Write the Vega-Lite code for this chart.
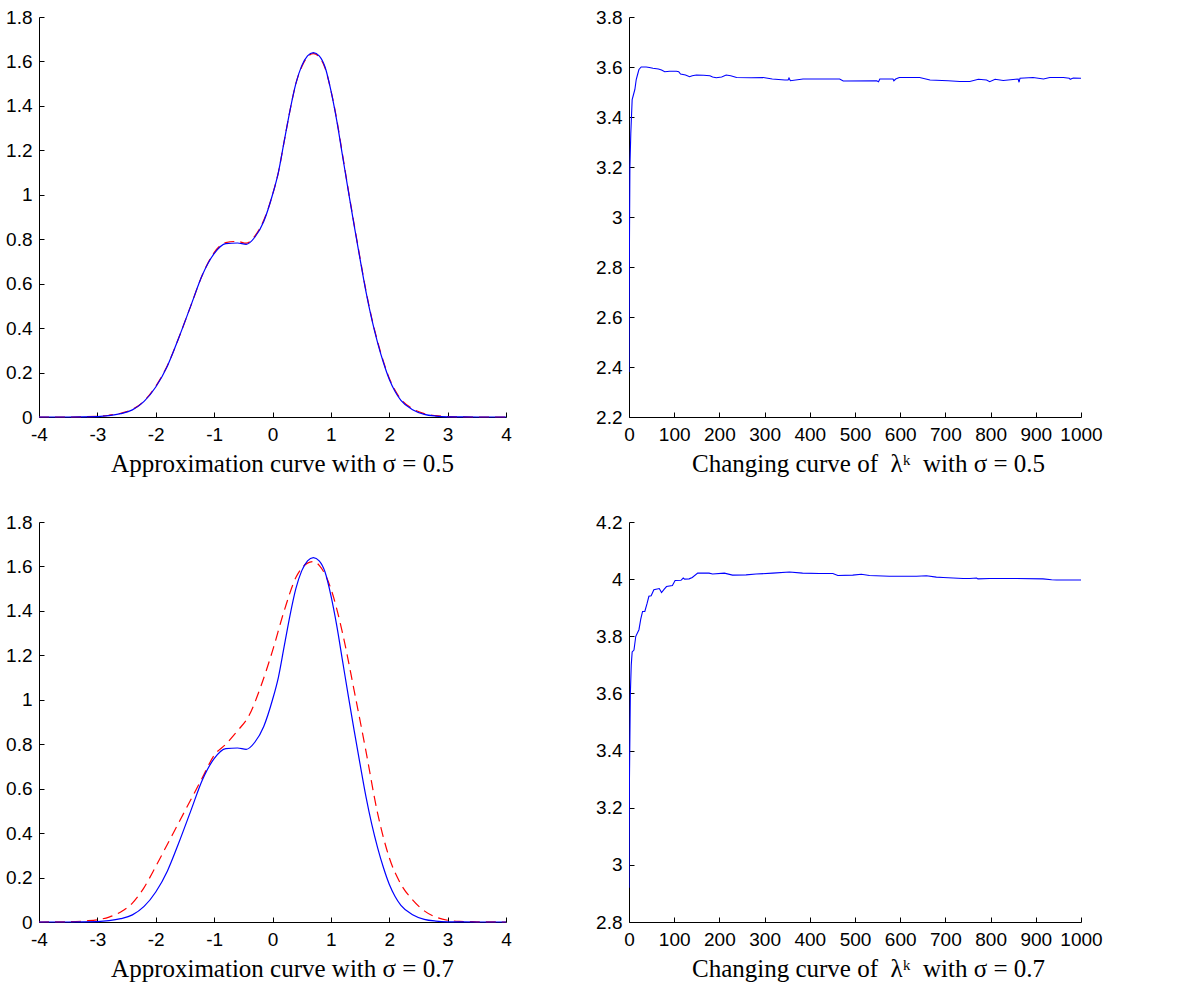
{
  "$schema": "https://vega.github.io/schema/vega-lite/v6.json",
  "background": "white",
  "padding": {"top": 8, "left": 5, "right": 5, "bottom": 5},
  "config": {
    "view": {"stroke": null},
    "axis": {
      "zindex": 0,
      "grid": false,
      "domainColor": "#000000",
      "domainWidth": 1,
      "tickColor": "#000000",
      "tickWidth": 1,
      "tickSize": -5,
      "labelColor": "#000000",
      "labelFont": "Liberation Sans",
      "labelFontSize": 19,
      "labelOverlap": false,
      "labelFlush": false,
      "titleFont": "Liberation Serif",
      "titleFontSize": 25,
      "titleFontWeight": "normal",
      "titleColor": "#000000"
    },
    "axisX": {"labelPadding": 13, "titlePadding": 7},
    "axisY": {"labelPadding": 12}
  },
  "datasets": {
    "blue": [
      {"x": -4, "y": 0}, {"x": -3.5, "y": 0}, {"x": -3, "y": 0.002}, {"x": -2.8, "y": 0.006}, {"x": -2.6, "y": 0.015}, {"x": -2.4, "y": 0.032}, {"x": -2.2, "y": 0.07}, {"x": -2.0, "y": 0.135}, {"x": -1.8, "y": 0.23}, {"x": -1.6, "y": 0.36}, {"x": -1.4, "y": 0.5}, {"x": -1.2, "y": 0.64}, {"x": -1.0, "y": 0.735}, {"x": -0.8, "y": 0.78}, {"x": -0.6, "y": 0.783}, {"x": -0.45, "y": 0.777}, {"x": -0.3, "y": 0.81}, {"x": -0.15, "y": 0.88}, {"x": 0, "y": 1.0}, {"x": 0.1, "y": 1.1}, {"x": 0.2, "y": 1.24}, {"x": 0.3, "y": 1.38}, {"x": 0.4, "y": 1.5}, {"x": 0.5, "y": 1.58}, {"x": 0.6, "y": 1.625}, {"x": 0.7, "y": 1.64}, {"x": 0.8, "y": 1.625}, {"x": 0.9, "y": 1.575}, {"x": 1.0, "y": 1.47}, {"x": 1.1, "y": 1.335}, {"x": 1.2, "y": 1.175}, {"x": 1.3, "y": 1.015}, {"x": 1.4, "y": 0.86}, {"x": 1.5, "y": 0.71}, {"x": 1.6, "y": 0.565}, {"x": 1.7, "y": 0.44}, {"x": 1.8, "y": 0.335}, {"x": 1.9, "y": 0.245}, {"x": 2.0, "y": 0.17}, {"x": 2.1, "y": 0.115}, {"x": 2.2, "y": 0.075}, {"x": 2.4, "y": 0.033}, {"x": 2.6, "y": 0.012}, {"x": 2.8, "y": 0.004}, {"x": 3.0, "y": 0.001}, {"x": 3.5, "y": 0}, {"x": 4, "y": 0}
    ],
    "r05": [
      {"x": -4, "y": 0}, {"x": -3.5, "y": 0}, {"x": -3, "y": 0.003}, {"x": -2.8, "y": 0.008}, {"x": -2.6, "y": 0.017}, {"x": -2.4, "y": 0.034}, {"x": -2.2, "y": 0.072}, {"x": -2.0, "y": 0.138}, {"x": -1.8, "y": 0.232}, {"x": -1.6, "y": 0.36}, {"x": -1.4, "y": 0.5}, {"x": -1.2, "y": 0.64}, {"x": -1.0, "y": 0.74}, {"x": -0.8, "y": 0.785}, {"x": -0.6, "y": 0.79}, {"x": -0.45, "y": 0.782}, {"x": -0.3, "y": 0.815}, {"x": -0.15, "y": 0.885}, {"x": 0, "y": 1.0}, {"x": 0.1, "y": 1.1}, {"x": 0.2, "y": 1.24}, {"x": 0.3, "y": 1.38}, {"x": 0.4, "y": 1.5}, {"x": 0.5, "y": 1.575}, {"x": 0.6, "y": 1.62}, {"x": 0.7, "y": 1.635}, {"x": 0.8, "y": 1.62}, {"x": 0.9, "y": 1.57}, {"x": 1.0, "y": 1.47}, {"x": 1.1, "y": 1.34}, {"x": 1.2, "y": 1.18}, {"x": 1.3, "y": 1.02}, {"x": 1.4, "y": 0.865}, {"x": 1.5, "y": 0.715}, {"x": 1.6, "y": 0.57}, {"x": 1.7, "y": 0.445}, {"x": 1.8, "y": 0.34}, {"x": 1.9, "y": 0.25}, {"x": 2.0, "y": 0.175}, {"x": 2.1, "y": 0.12}, {"x": 2.2, "y": 0.08}, {"x": 2.4, "y": 0.037}, {"x": 2.6, "y": 0.015}, {"x": 2.8, "y": 0.006}, {"x": 3.0, "y": 0.002}, {"x": 3.5, "y": 0}, {"x": 4, "y": 0}
    ],
    "r07": [
      {"x": -4, "y": 0}, {"x": -3.5, "y": 0.001}, {"x": -3.2, "y": 0.005}, {"x": -3.0, "y": 0.01}, {"x": -2.8, "y": 0.022}, {"x": -2.6, "y": 0.045}, {"x": -2.4, "y": 0.085}, {"x": -2.2, "y": 0.155}, {"x": -2.0, "y": 0.25}, {"x": -1.8, "y": 0.35}, {"x": -1.6, "y": 0.45}, {"x": -1.4, "y": 0.55}, {"x": -1.2, "y": 0.65}, {"x": -1.0, "y": 0.75}, {"x": -0.8, "y": 0.8}, {"x": -0.6, "y": 0.86}, {"x": -0.4, "y": 0.93}, {"x": -0.2, "y": 1.06}, {"x": 0, "y": 1.22}, {"x": 0.2, "y": 1.4}, {"x": 0.4, "y": 1.55}, {"x": 0.6, "y": 1.615}, {"x": 0.7, "y": 1.622}, {"x": 0.8, "y": 1.605}, {"x": 1.0, "y": 1.5}, {"x": 1.2, "y": 1.3}, {"x": 1.4, "y": 1.04}, {"x": 1.6, "y": 0.77}, {"x": 1.8, "y": 0.49}, {"x": 2.0, "y": 0.29}, {"x": 2.2, "y": 0.17}, {"x": 2.4, "y": 0.1}, {"x": 2.6, "y": 0.05}, {"x": 2.8, "y": 0.022}, {"x": 3.0, "y": 0.008}, {"x": 3.2, "y": 0.003}, {"x": 3.5, "y": 0.001}, {"x": 4, "y": 0}
    ],
    "k05": [
      {"k": 0, "v": 2.38}, {"k": 1, "v": 2.9}, {"k": 2, "v": 3.2}, {"k": 4, "v": 3.335}, {"k": 7, "v": 3.47}, {"k": 10, "v": 3.49}, {"k": 13, "v": 3.51}, {"k": 16, "v": 3.55}, {"k": 19, "v": 3.57}, {"k": 22, "v": 3.59}, {"k": 27, "v": 3.6}, {"k": 38, "v": 3.6}, {"k": 45, "v": 3.598}, {"k": 53, "v": 3.595}, {"k": 65, "v": 3.592}, {"k": 72, "v": 3.588}, {"k": 79, "v": 3.581}, {"k": 90, "v": 3.583}, {"k": 105, "v": 3.583}, {"k": 110, "v": 3.581}, {"k": 114, "v": 3.572}, {"k": 125, "v": 3.568}, {"k": 134, "v": 3.561}, {"k": 140, "v": 3.565}, {"k": 149, "v": 3.568}, {"k": 165, "v": 3.567}, {"k": 179, "v": 3.565}, {"k": 185, "v": 3.56}, {"k": 193, "v": 3.557}, {"k": 205, "v": 3.56}, {"k": 215, "v": 3.568}, {"k": 225, "v": 3.565}, {"k": 238, "v": 3.558}, {"k": 270, "v": 3.557}, {"k": 297, "v": 3.558}, {"k": 317, "v": 3.552}, {"k": 345, "v": 3.548}, {"k": 352, "v": 3.548}, {"k": 354, "v": 3.556}, {"k": 357, "v": 3.545}, {"k": 385, "v": 3.552}, {"k": 466, "v": 3.552}, {"k": 474, "v": 3.544}, {"k": 548, "v": 3.545}, {"k": 552, "v": 3.541}, {"k": 555, "v": 3.552}, {"k": 584, "v": 3.552}, {"k": 586, "v": 3.545}, {"k": 590, "v": 3.552}, {"k": 598, "v": 3.558}, {"k": 643, "v": 3.558}, {"k": 666, "v": 3.548}, {"k": 706, "v": 3.545}, {"k": 732, "v": 3.542}, {"k": 754, "v": 3.542}, {"k": 773, "v": 3.551}, {"k": 791, "v": 3.548}, {"k": 798, "v": 3.541}, {"k": 810, "v": 3.551}, {"k": 828, "v": 3.546}, {"k": 861, "v": 3.552}, {"k": 863, "v": 3.539}, {"k": 865, "v": 3.555}, {"k": 894, "v": 3.558}, {"k": 917, "v": 3.552}, {"k": 931, "v": 3.558}, {"k": 961, "v": 3.558}, {"k": 974, "v": 3.555}, {"k": 976, "v": 3.551}, {"k": 983, "v": 3.556}, {"k": 1000, "v": 3.555}
    ],
    "k07": [
      {"k": 0, "v": 2.92}, {"k": 1, "v": 3.3}, {"k": 3, "v": 3.6}, {"k": 5, "v": 3.7}, {"k": 7, "v": 3.745}, {"k": 11, "v": 3.752}, {"k": 15, "v": 3.8}, {"k": 22, "v": 3.823}, {"k": 26, "v": 3.86}, {"k": 30, "v": 3.887}, {"k": 35, "v": 3.887}, {"k": 40, "v": 3.915}, {"k": 44, "v": 3.94}, {"k": 49, "v": 3.942}, {"k": 55, "v": 3.963}, {"k": 67, "v": 3.967}, {"k": 72, "v": 3.953}, {"k": 78, "v": 3.965}, {"k": 83, "v": 3.974}, {"k": 96, "v": 3.978}, {"k": 102, "v": 3.995}, {"k": 115, "v": 3.996}, {"k": 120, "v": 4.004}, {"k": 123, "v": 4.0}, {"k": 133, "v": 4.001}, {"k": 140, "v": 4.006}, {"k": 152, "v": 4.021}, {"k": 177, "v": 4.021}, {"k": 185, "v": 4.018}, {"k": 211, "v": 4.021}, {"k": 229, "v": 4.014}, {"k": 259, "v": 4.015}, {"k": 281, "v": 4.018}, {"k": 318, "v": 4.021}, {"k": 355, "v": 4.025}, {"k": 384, "v": 4.021}, {"k": 421, "v": 4.02}, {"k": 451, "v": 4.02}, {"k": 462, "v": 4.013}, {"k": 495, "v": 4.014}, {"k": 514, "v": 4.017}, {"k": 532, "v": 4.013}, {"k": 576, "v": 4.01}, {"k": 636, "v": 4.01}, {"k": 658, "v": 4.012}, {"k": 680, "v": 4.007}, {"k": 695, "v": 4.006}, {"k": 739, "v": 4.002}, {"k": 754, "v": 4.002}, {"k": 769, "v": 4.004}, {"k": 772, "v": 4.001}, {"k": 798, "v": 4.002}, {"k": 857, "v": 4.002}, {"k": 916, "v": 4.001}, {"k": 935, "v": 3.998}, {"k": 946, "v": 3.997}, {"k": 1000, "v": 3.997}
    ]
  },
  "vconcat": [
    {
      "spacing": 83,
      "hconcat": [
        {
          "width": 467,
          "height": 400,
          "layer": [
            {
              "data": {"name": "r05"},
              "mark": {"type": "line", "color": "#ff0000", "strokeWidth": 1.2, "strokeDash": [10, 6], "interpolate": "monotone"},
              "encoding": {
                "x": {"field": "x", "type": "quantitative", "scale": {"domain": [-4, 4], "nice": false, "zero": false},
                  "axis": {"values": [-4, -3, -2, -1, 0, 1, 2, 3, 4], "labelExpr": "datum.value < 0 ? '-' + format(-datum.value, '~g') : format(datum.value, '~g')", "title": "Approximation curve with σ = 0.5", "titleX": 243}},
                "y": {"field": "y", "type": "quantitative", "scale": {"domain": [0, 1.8], "nice": false},
                  "axis": {"values": [0, 0.2, 0.4, 0.6, 0.8, 1, 1.2, 1.4, 1.6, 1.8], "format": "~g", "title": null}}
              }
            },
            {
              "data": {"name": "blue"},
              "mark": {"type": "line", "color": "#0000ff", "strokeWidth": 1.2, "interpolate": "monotone"},
              "encoding": {
                "x": {"field": "x", "type": "quantitative"},
                "y": {"field": "y", "type": "quantitative"}
              }
            }
          ]
        },
        {
          "width": 452,
          "height": 400,
          "data": {"name": "k05"},
          "mark": {"type": "line", "color": "#0000ff", "strokeWidth": 1.1, "clip": true},
          "encoding": {
            "x": {"field": "k", "type": "quantitative", "scale": {"domain": [0, 1000], "nice": false},
              "axis": {"values": [0, 100, 200, 300, 400, 500, 600, 700, 800, 900, 1000], "format": "d", "title": "Changing curve of\u00a0\u00a0λᵏ\u00a0\u00a0with σ = 0.5", "titleX": 239}},
            "y": {"field": "v", "type": "quantitative", "scale": {"domain": [2.2, 3.8], "nice": false, "zero": false},
              "axis": {"values": [2.2, 2.4, 2.6, 2.8, 3, 3.2, 3.4, 3.6, 3.8], "format": "~g", "title": null}}
          }
        }
      ]
    },
    {
      "spacing": 83,
      "hconcat": [
        {
          "width": 467,
          "height": 400,
          "layer": [
            {
              "data": {"name": "r07"},
              "mark": {"type": "line", "color": "#ff0000", "strokeWidth": 1.2, "strokeDash": [10, 6], "interpolate": "monotone"},
              "encoding": {
                "x": {"field": "x", "type": "quantitative", "scale": {"domain": [-4, 4], "nice": false, "zero": false},
                  "axis": {"values": [-4, -3, -2, -1, 0, 1, 2, 3, 4], "labelExpr": "datum.value < 0 ? '-' + format(-datum.value, '~g') : format(datum.value, '~g')", "title": "Approximation curve with σ = 0.7", "titleX": 243}},
                "y": {"field": "y", "type": "quantitative", "scale": {"domain": [0, 1.8], "nice": false},
                  "axis": {"values": [0, 0.2, 0.4, 0.6, 0.8, 1, 1.2, 1.4, 1.6, 1.8], "format": "~g", "title": null}}
              }
            },
            {
              "data": {"name": "blue"},
              "mark": {"type": "line", "color": "#0000ff", "strokeWidth": 1.2, "interpolate": "monotone"},
              "encoding": {
                "x": {"field": "x", "type": "quantitative"},
                "y": {"field": "y", "type": "quantitative"}
              }
            }
          ]
        },
        {
          "width": 452,
          "height": 400,
          "data": {"name": "k07"},
          "mark": {"type": "line", "color": "#0000ff", "strokeWidth": 1.1, "clip": true},
          "encoding": {
            "x": {"field": "k", "type": "quantitative", "scale": {"domain": [0, 1000], "nice": false},
              "axis": {"values": [0, 100, 200, 300, 400, 500, 600, 700, 800, 900, 1000], "format": "d", "title": "Changing curve of\u00a0\u00a0λᵏ\u00a0\u00a0with σ = 0.7", "titleX": 239}},
            "y": {"field": "v", "type": "quantitative", "scale": {"domain": [2.8, 4.2], "nice": false, "zero": false},
              "axis": {"values": [2.8, 3, 3.2, 3.4, 3.6, 3.8, 4, 4.2], "format": "~g", "title": null}}
          }
        }
      ]
    }
  ],
  "spacing": 37,
  "resolve": {"scale": {"x": "independent", "y": "independent"}}
}
